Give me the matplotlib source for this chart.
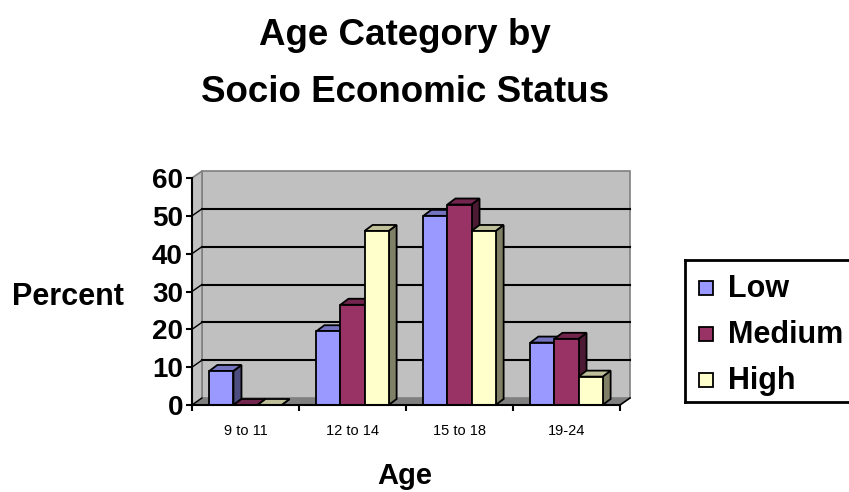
"""Age category by socio economic status, Excel-style 3D clustered columns."""
import matplotlib
matplotlib.use("Agg")
import matplotlib.pyplot as plt
from matplotlib.lines import Line2D
from matplotlib.patches import Polygon, Rectangle

categories = ["9 to 11", "12 to 14", "15 to 18", "19-24"]
series = ["Low", "Medium", "High"]
low = [9, 19.5, 50, 16.5]
medium = [0, 26.5, 53, 17.5]
high = [0, 46, 46, 7.5]
y_ticks = [0, 10, 20, 30, 40, 50, 60]

values = {"Low": low, "Medium": medium, "High": high}
front_col = {"Low": "#9999FF", "Medium": "#993366", "High": "#FFFFCC"}
top_col = {"Low": "#7373BF", "Medium": "#73264D", "High": "#BFBF99"}
side_col = {"Low": "#4D4D80", "Medium": "#4D1A33", "High": "#808066"}

plt.rcParams["font.family"] = ["Liberation Sans", "DejaVu Sans"]

W, H = 849, 492


def fx(px):
    return px / W


def fy(py):
    return 1 - py / H


# pixel scale: 107 px per category, 3.783 px per percent
PX_X = 107.0
PX_Y = 3.783
DXW, DYW = 10 / PX_X, 7 / PX_Y      # wall depth
DXB, DYB = 8 / PX_X, 6 / PX_Y       # bar depth
XMAX, YMAX = 4.12, 62.0

fig = plt.figure(figsize=(W / 100, H / 100), dpi=100)
ax = fig.add_axes([fx(192), fy(405), XMAX * PX_X / W, YMAX * PX_Y / H])
ax.set_xlim(0, XMAX)
ax.set_ylim(0, YMAX)
ax.patch.set_visible(False)

n = len(categories)
top_v = y_ticks[-1]

# walls and floor
ax.add_patch(Polygon([(DXW, DYW), (n + DXW, DYW), (n + DXW, top_v + DYW), (DXW, top_v + DYW)],
                     closed=True, fc="#C0C0C0", ec="#808080", lw=1.2, zorder=1, clip_on=False))
ax.add_patch(Polygon([(0, 0), (DXW, DYW), (DXW, top_v + DYW), (0, top_v)],
                     closed=True, fc="#C0C0C0", ec="#808080", lw=1.2, zorder=1, clip_on=False))
ax.add_patch(Polygon([(0, 0), (n, 0), (n + DXW, DYW), (DXW, DYW)],
                     closed=True, fc="#808080", ec="none", zorder=1, clip_on=False))
ax.plot([n, n + DXW], [0, DYW], color="black", lw=1.2, zorder=2, clip_on=False)

for v in y_ticks[1:-1]:
    ax.plot([DXW, n + DXW], [v + DYW, v + DYW], color="black", lw=1.5, zorder=2)
for v in y_ticks[:-1]:
    ax.plot([0, DXW], [v, v + DYW], color="black", lw=1.0, zorder=2, clip_on=False)

# bars, painted left to right within each cluster
w = 0.225
for j, s in enumerate(series):
    vals = values[s]
    xs = [i + 0.5 - 1.5 * w + j * w for i in range(n)]
    z = 3 + 3 * j
    for x0, v in zip(xs, vals):
        ax.add_patch(Polygon([(x0 + w, 0), (x0 + w + DXB, DYB), (x0 + w + DXB, v + DYB), (x0 + w, v)],
                             closed=True, fc=side_col[s], ec="black", lw=1.3, zorder=z))
        ax.add_patch(Polygon([(x0, v), (x0 + w, v), (x0 + w + DXB, v + DYB), (x0 + DXB, v + DYB)],
                             closed=True, fc=top_col[s], ec="black", lw=1.3, zorder=z + 1))
    ax.bar(xs, vals, width=w, align="edge", color=front_col[s], edgecolor="black",
           linewidth=1.3, zorder=z + 2)

# axes
for sp in ("top", "right"):
    ax.spines[sp].set_visible(False)
ax.spines["left"].set_bounds(0, top_v)
ax.spines["bottom"].set_bounds(0, n)
ax.spines["left"].set_linewidth(1.5)
ax.spines["bottom"].set_linewidth(1.5)
ax.spines["left"].set_zorder(20)
ax.spines["bottom"].set_zorder(20)

ax.set_yticks(y_ticks)
ax.set_yticklabels([str(t) for t in y_ticks], fontsize=20, fontweight="bold")
ax.tick_params(axis="y", direction="out", length=4.5, width=1.5, pad=2)

ax.set_xticks(range(n + 1))
ax.set_xticklabels([])
ax.tick_params(axis="x", which="major", direction="out", length=4, width=1.5)
ax.set_xticks([i + 0.5 for i in range(n)], minor=True)
ax.set_xticklabels(categories, minor=True, fontsize=10.5)
ax.tick_params(axis="x", which="minor", length=0, pad=14)

# titles
fig.text(fx(405), fy(45), "Age Category by", ha="center", va="baseline",
         fontsize=26.5, fontweight="bold")
fig.text(fx(405), fy(102), "Socio Economic Status", ha="center", va="baseline",
         fontsize=26.5, fontweight="bold")
fig.text(fx(12), fy(305), "Percent", ha="left", va="baseline", fontsize=22, fontweight="bold")
fig.text(fx(405), fy(484), "Age", ha="center", va="baseline", fontsize=21, fontweight="bold")

# legend: box is open on the right, it runs off the figure edge in the original
lx0, lx1, ly0, ly1 = 685, 849, 260, 402
for xs_, ys_ in (([lx0, lx1], [ly0, ly0]), ([lx0, lx0], [ly0, ly1]), ([lx0, lx1], [ly1, ly1])):
    fig.lines.append(Line2D([fx(x) for x in xs_], [fy(y) for y in ys_], transform=fig.transFigure,
                            color="black", lw=2, solid_capstyle="projecting"))
for k, s in enumerate(series):
    base = 297 + 46 * k
    fig.patches.append(Rectangle((fx(699), fy(base - 2)), fx(14), 14 / H, transform=fig.transFigure,
                                 fc=front_col[s], ec="black", lw=1.3))
    fig.text(fx(728), fy(base), s, ha="left", va="baseline", fontsize=22, fontweight="bold")

fig.savefig("out.png", dpi=100)
